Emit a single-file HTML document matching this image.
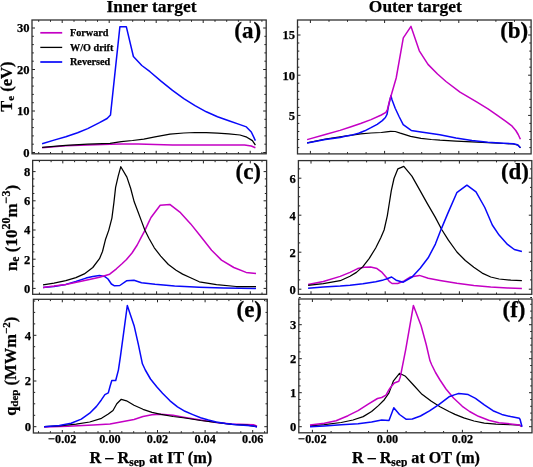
<!DOCTYPE html><html><head><meta charset="utf-8"><style>html,body{margin:0;padding:0;background:#fff}svg{display:block;will-change:transform;filter:blur(0.35px)}</style></head><body><svg width="533" height="467" viewBox="0 0 533 467" font-family='"Liberation Serif", serif' font-weight="bold"><g stroke="#000" stroke-width="0.25">
<rect width="533" height="467" fill="#fff" stroke="none"/>
<path d="M62.2 153.8L62.2 150.8 M62.2 20.0L62.2 23.0 M109.2 153.8L109.2 150.8 M109.2 20.0L109.2 23.0 M156.2 153.8L156.2 150.8 M156.2 20.0L156.2 23.0 M203.2 153.8L203.2 150.8 M203.2 20.0L203.2 23.0 M250.2 153.8L250.2 150.8 M250.2 20.0L250.2 23.0 M38.7 153.8L38.7 152.0 M38.7 20.0L38.7 21.8 M50.5 153.8L50.5 152.0 M50.5 20.0L50.5 21.8 M74.0 153.8L74.0 152.0 M74.0 20.0L74.0 21.8 M85.7 153.8L85.7 152.0 M85.7 20.0L85.7 21.8 M97.5 153.8L97.5 152.0 M97.5 20.0L97.5 21.8 M121.0 153.8L121.0 152.0 M121.0 20.0L121.0 21.8 M132.7 153.8L132.7 152.0 M132.7 20.0L132.7 21.8 M144.5 153.8L144.5 152.0 M144.5 20.0L144.5 21.8 M168.0 153.8L168.0 152.0 M168.0 20.0L168.0 21.8 M179.7 153.8L179.7 152.0 M179.7 20.0L179.7 21.8 M191.5 153.8L191.5 152.0 M191.5 20.0L191.5 21.8 M215.0 153.8L215.0 152.0 M215.0 20.0L215.0 21.8 M226.7 153.8L226.7 152.0 M226.7 20.0L226.7 21.8 M238.4 153.8L238.4 152.0 M238.4 20.0L238.4 21.8 M261.9 153.8L261.9 152.0 M261.9 20.0L261.9 21.8 M32.0 152.5L35.0 152.5 M266.2 152.5L263.2 152.5 M32.0 111.0L35.0 111.0 M266.2 111.0L263.2 111.0 M32.0 69.5L35.0 69.5 M266.2 69.5L263.2 69.5 M32.0 28.0L35.0 28.0 M266.2 28.0L263.2 28.0 M32.0 144.2L33.8 144.2 M266.2 144.2L264.4 144.2 M32.0 135.9L33.8 135.9 M266.2 135.9L264.4 135.9 M32.0 127.6L33.8 127.6 M266.2 127.6L264.4 127.6 M32.0 119.3L33.8 119.3 M266.2 119.3L264.4 119.3 M32.0 102.7L33.8 102.7 M266.2 102.7L264.4 102.7 M32.0 94.4L33.8 94.4 M266.2 94.4L264.4 94.4 M32.0 86.1L33.8 86.1 M266.2 86.1L264.4 86.1 M32.0 77.8L33.8 77.8 M266.2 77.8L264.4 77.8 M32.0 61.2L33.8 61.2 M266.2 61.2L264.4 61.2 M32.0 52.9L33.8 52.9 M266.2 52.9L264.4 52.9 M32.0 44.6L33.8 44.6 M266.2 44.6L264.4 44.6 M32.0 36.3L33.8 36.3 M266.2 36.3L264.4 36.3" stroke="#222" stroke-width="1" fill="none"/>
<rect x="32" y="20" width="234.2" height="133.8" fill="none" stroke="#303030" stroke-width="1.3"/>
<text x="29.6" y="156.8" font-size="12.6" text-anchor="end" >0</text>
<text x="29.6" y="115.3" font-size="12.6" text-anchor="end" >10</text>
<text x="29.6" y="73.8" font-size="12.6" text-anchor="end" >20</text>
<text x="29.6" y="32.29999999999998" font-size="12.6" text-anchor="end" >30</text>
<path d="M310.4 153.9L310.4 150.9 M310.4 20.0L310.4 23.0 M384.6 153.9L384.6 150.9 M384.6 20.0L384.6 23.0 M458.8 153.9L458.8 150.9 M458.8 20.0L458.8 23.0 M329.0 153.9L329.0 152.1 M329.0 20.0L329.0 21.8 M347.5 153.9L347.5 152.1 M347.5 20.0L347.5 21.8 M366.1 153.9L366.1 152.1 M366.1 20.0L366.1 21.8 M403.2 153.9L403.2 152.1 M403.2 20.0L403.2 21.8 M421.7 153.9L421.7 152.1 M421.7 20.0L421.7 21.8 M440.3 153.9L440.3 152.1 M440.3 20.0L440.3 21.8 M477.4 153.9L477.4 152.1 M477.4 20.0L477.4 21.8 M495.9 153.9L495.9 152.1 M495.9 20.0L495.9 21.8 M514.5 153.9L514.5 152.1 M514.5 20.0L514.5 21.8 M297.5 115.4L300.5 115.4 M531.1 115.4L528.1 115.4 M297.5 75.2L300.5 75.2 M531.1 75.2L528.1 75.2 M297.5 35.0L300.5 35.0 M531.1 35.0L528.1 35.0 M297.5 147.6L299.3 147.6 M531.1 147.6L529.3 147.6 M297.5 139.5L299.3 139.5 M531.1 139.5L529.3 139.5 M297.5 131.5L299.3 131.5 M531.1 131.5L529.3 131.5 M297.5 123.4L299.3 123.4 M531.1 123.4L529.3 123.4 M297.5 107.4L299.3 107.4 M531.1 107.4L529.3 107.4 M297.5 99.3L299.3 99.3 M531.1 99.3L529.3 99.3 M297.5 91.3L299.3 91.3 M531.1 91.3L529.3 91.3 M297.5 83.2L299.3 83.2 M531.1 83.2L529.3 83.2 M297.5 67.2L299.3 67.2 M531.1 67.2L529.3 67.2 M297.5 59.1L299.3 59.1 M531.1 59.1L529.3 59.1 M297.5 51.1L299.3 51.1 M531.1 51.1L529.3 51.1 M297.5 43.0L299.3 43.0 M531.1 43.0L529.3 43.0 M297.5 27.0L299.3 27.0 M531.1 27.0L529.3 27.0" stroke="#222" stroke-width="1" fill="none"/>
<rect x="297.5" y="20" width="233.60000000000002" height="133.9" fill="none" stroke="#303030" stroke-width="1.3"/>
<text x="295" y="119.7" font-size="12.6" text-anchor="end" >5</text>
<text x="295" y="79.5" font-size="12.6" text-anchor="end" >10</text>
<text x="295" y="39.3" font-size="12.6" text-anchor="end" >15</text>
<path d="M62.8 294.3L62.8 291.3 M62.8 160.4L62.8 163.4 M109.7 294.3L109.7 291.3 M109.7 160.4L109.7 163.4 M156.6 294.3L156.6 291.3 M156.6 160.4L156.6 163.4 M203.4 294.3L203.4 291.3 M203.4 160.4L203.4 163.4 M250.3 294.3L250.3 291.3 M250.3 160.4L250.3 163.4 M39.4 294.3L39.4 292.5 M39.4 160.4L39.4 162.2 M51.1 294.3L51.1 292.5 M51.1 160.4L51.1 162.2 M74.6 294.3L74.6 292.5 M74.6 160.4L74.6 162.2 M86.3 294.3L86.3 292.5 M86.3 160.4L86.3 162.2 M98.0 294.3L98.0 292.5 M98.0 160.4L98.0 162.2 M121.4 294.3L121.4 292.5 M121.4 160.4L121.4 162.2 M133.1 294.3L133.1 292.5 M133.1 160.4L133.1 162.2 M144.8 294.3L144.8 292.5 M144.8 160.4L144.8 162.2 M168.3 294.3L168.3 292.5 M168.3 160.4L168.3 162.2 M180.0 294.3L180.0 292.5 M180.0 160.4L180.0 162.2 M191.7 294.3L191.7 292.5 M191.7 160.4L191.7 162.2 M215.1 294.3L215.1 292.5 M215.1 160.4L215.1 162.2 M226.9 294.3L226.9 292.5 M226.9 160.4L226.9 162.2 M238.6 294.3L238.6 292.5 M238.6 160.4L238.6 162.2 M262.0 294.3L262.0 292.5 M262.0 160.4L262.0 162.2 M32.6 288.4L35.6 288.4 M266.6 288.4L263.6 288.4 M32.6 259.2L35.6 259.2 M266.6 259.2L263.6 259.2 M32.6 230.0L35.6 230.0 M266.6 230.0L263.6 230.0 M32.6 200.8L35.6 200.8 M266.6 200.8L263.6 200.8 M32.6 171.6L35.6 171.6 M266.6 171.6L263.6 171.6 M32.6 281.1L34.4 281.1 M266.6 281.1L264.8 281.1 M32.6 273.8L34.4 273.8 M266.6 273.8L264.8 273.8 M32.6 266.5L34.4 266.5 M266.6 266.5L264.8 266.5 M32.6 251.9L34.4 251.9 M266.6 251.9L264.8 251.9 M32.6 244.6L34.4 244.6 M266.6 244.6L264.8 244.6 M32.6 237.3L34.4 237.3 M266.6 237.3L264.8 237.3 M32.6 222.7L34.4 222.7 M266.6 222.7L264.8 222.7 M32.6 215.4L34.4 215.4 M266.6 215.4L264.8 215.4 M32.6 208.1L34.4 208.1 M266.6 208.1L264.8 208.1 M32.6 193.5L34.4 193.5 M266.6 193.5L264.8 193.5 M32.6 186.2L34.4 186.2 M266.6 186.2L264.8 186.2 M32.6 178.9L34.4 178.9 M266.6 178.9L264.8 178.9" stroke="#222" stroke-width="1" fill="none"/>
<rect x="32.65" y="160.4" width="233.95000000000002" height="133.9" fill="none" stroke="#303030" stroke-width="1.3"/>
<text x="30.2" y="292.7" font-size="12.6" text-anchor="end" >0</text>
<text x="30.2" y="263.5" font-size="12.6" text-anchor="end" >2</text>
<text x="30.2" y="234.29999999999998" font-size="12.6" text-anchor="end" >4</text>
<text x="30.2" y="205.1" font-size="12.6" text-anchor="end" >6</text>
<text x="30.2" y="175.89999999999998" font-size="12.6" text-anchor="end" >8</text>
<path d="M311.0 294.3L311.0 291.3 M311.0 160.6L311.0 163.6 M385.2 294.3L385.2 291.3 M385.2 160.6L385.2 163.6 M459.4 294.3L459.4 291.3 M459.4 160.6L459.4 163.6 M329.6 294.3L329.6 292.5 M329.6 160.6L329.6 162.4 M348.1 294.3L348.1 292.5 M348.1 160.6L348.1 162.4 M366.6 294.3L366.6 292.5 M366.6 160.6L366.6 162.4 M403.8 294.3L403.8 292.5 M403.8 160.6L403.8 162.4 M422.3 294.3L422.3 292.5 M422.3 160.6L422.3 162.4 M440.9 294.3L440.9 292.5 M440.9 160.6L440.9 162.4 M477.9 294.3L477.9 292.5 M477.9 160.6L477.9 162.4 M496.5 294.3L496.5 292.5 M496.5 160.6L496.5 162.4 M515.0 294.3L515.0 292.5 M515.0 160.6L515.0 162.4 M298.4 289.2L301.4 289.2 M531.8 289.2L528.8 289.2 M298.4 252.2L301.4 252.2 M531.8 252.2L528.8 252.2 M298.4 215.2L301.4 215.2 M531.8 215.2L528.8 215.2 M298.4 178.2L301.4 178.2 M531.8 178.2L528.8 178.2 M298.4 279.9L300.2 279.9 M531.8 279.9L530.0 279.9 M298.4 270.7L300.2 270.7 M531.8 270.7L530.0 270.7 M298.4 261.4L300.2 261.4 M531.8 261.4L530.0 261.4 M298.4 242.9L300.2 242.9 M531.8 242.9L530.0 242.9 M298.4 233.7L300.2 233.7 M531.8 233.7L530.0 233.7 M298.4 224.4L300.2 224.4 M531.8 224.4L530.0 224.4 M298.4 205.9L300.2 205.9 M531.8 205.9L530.0 205.9 M298.4 196.7L300.2 196.7 M531.8 196.7L530.0 196.7 M298.4 187.4L300.2 187.4 M531.8 187.4L530.0 187.4 M298.4 168.9L300.2 168.9 M531.8 168.9L530.0 168.9" stroke="#222" stroke-width="1" fill="none"/>
<rect x="298.4" y="160.6" width="233.39999999999998" height="133.70000000000002" fill="none" stroke="#303030" stroke-width="1.3"/>
<text x="295.8" y="293.5" font-size="12.6" text-anchor="end" >0</text>
<text x="295.8" y="256.5" font-size="12.6" text-anchor="end" >2</text>
<text x="295.8" y="219.5" font-size="12.6" text-anchor="end" >4</text>
<text x="295.8" y="182.5" font-size="12.6" text-anchor="end" >6</text>
<path d="M62.3 433.0L62.3 430.0 M62.3 299.3L62.3 302.3 M109.9 433.0L109.9 430.0 M109.9 299.3L109.9 302.3 M157.5 433.0L157.5 430.0 M157.5 299.3L157.5 302.3 M205.1 433.0L205.1 430.0 M205.1 299.3L205.1 302.3 M252.7 433.0L252.7 430.0 M252.7 299.3L252.7 302.3 M38.5 433.0L38.5 431.2 M38.5 299.3L38.5 301.1 M50.4 433.0L50.4 431.2 M50.4 299.3L50.4 301.1 M74.2 433.0L74.2 431.2 M74.2 299.3L74.2 301.1 M86.1 433.0L86.1 431.2 M86.1 299.3L86.1 301.1 M98.0 433.0L98.0 431.2 M98.0 299.3L98.0 301.1 M121.8 433.0L121.8 431.2 M121.8 299.3L121.8 301.1 M133.7 433.0L133.7 431.2 M133.7 299.3L133.7 301.1 M145.6 433.0L145.6 431.2 M145.6 299.3L145.6 301.1 M169.4 433.0L169.4 431.2 M169.4 299.3L169.4 301.1 M181.3 433.0L181.3 431.2 M181.3 299.3L181.3 301.1 M193.2 433.0L193.2 431.2 M193.2 299.3L193.2 301.1 M217.0 433.0L217.0 431.2 M217.0 299.3L217.0 301.1 M228.9 433.0L228.9 431.2 M228.9 299.3L228.9 301.1 M240.8 433.0L240.8 431.2 M240.8 299.3L240.8 301.1 M264.6 433.0L264.6 431.2 M264.6 299.3L264.6 301.1 M33.4 426.7L36.4 426.7 M267.3 426.7L264.3 426.7 M33.4 381.0L36.4 381.0 M267.3 381.0L264.3 381.0 M33.4 335.3L36.4 335.3 M267.3 335.3L264.3 335.3 M33.4 415.3L35.2 415.3 M267.3 415.3L265.5 415.3 M33.4 403.8L35.2 403.8 M267.3 403.8L265.5 403.8 M33.4 392.4L35.2 392.4 M267.3 392.4L265.5 392.4 M33.4 369.6L35.2 369.6 M267.3 369.6L265.5 369.6 M33.4 358.1L35.2 358.1 M267.3 358.1L265.5 358.1 M33.4 346.7L35.2 346.7 M267.3 346.7L265.5 346.7 M33.4 323.9L35.2 323.9 M267.3 323.9L265.5 323.9 M33.4 312.4L35.2 312.4 M267.3 312.4L265.5 312.4 M33.4 301.0L35.2 301.0 M267.3 301.0L265.5 301.0" stroke="#222" stroke-width="1" fill="none"/>
<rect x="33.4" y="299.3" width="233.9" height="133.7" fill="none" stroke="#303030" stroke-width="1.3"/>
<text x="31" y="431.0" font-size="12.6" text-anchor="end" >0</text>
<text x="31" y="385.3" font-size="12.6" text-anchor="end" >2</text>
<text x="31" y="339.59999999999997" font-size="12.6" text-anchor="end" >4</text>
<text x="62.3" y="443.2" font-size="12.2" text-anchor="middle" >&#8722;0.02</text>
<text x="109.9" y="443.2" font-size="12.2" text-anchor="middle" >0.00</text>
<text x="157.5" y="443.2" font-size="12.2" text-anchor="middle" >0.02</text>
<text x="205.1" y="443.2" font-size="12.2" text-anchor="middle" >0.04</text>
<text x="252.7" y="443.2" font-size="12.2" text-anchor="middle" >0.06</text>
<path d="M312.4 432.8L312.4 429.8 M312.4 299.0L312.4 302.0 M387.4 432.8L387.4 429.8 M387.4 299.0L387.4 302.0 M462.4 432.8L462.4 429.8 M462.4 299.0L462.4 302.0 M331.1 432.8L331.1 431.0 M331.1 299.0L331.1 300.8 M349.9 432.8L349.9 431.0 M349.9 299.0L349.9 300.8 M368.6 432.8L368.6 431.0 M368.6 299.0L368.6 300.8 M406.1 432.8L406.1 431.0 M406.1 299.0L406.1 300.8 M424.9 432.8L424.9 431.0 M424.9 299.0L424.9 300.8 M443.6 432.8L443.6 431.0 M443.6 299.0L443.6 300.8 M481.1 432.8L481.1 431.0 M481.1 299.0L481.1 300.8 M499.9 432.8L499.9 431.0 M499.9 299.0L499.9 300.8 M518.6 432.8L518.6 431.0 M518.6 299.0L518.6 300.8 M298.8 426.7L301.8 426.7 M532.0 426.7L529.0 426.7 M298.8 392.7L301.8 392.7 M532.0 392.7L529.0 392.7 M298.8 358.7L301.8 358.7 M532.0 358.7L529.0 358.7 M298.8 324.7L301.8 324.7 M532.0 324.7L529.0 324.7 M298.8 419.9L300.6 419.9 M532.0 419.9L530.2 419.9 M298.8 413.1L300.6 413.1 M532.0 413.1L530.2 413.1 M298.8 406.3L300.6 406.3 M532.0 406.3L530.2 406.3 M298.8 399.5L300.6 399.5 M532.0 399.5L530.2 399.5 M298.8 385.9L300.6 385.9 M532.0 385.9L530.2 385.9 M298.8 379.1L300.6 379.1 M532.0 379.1L530.2 379.1 M298.8 372.3L300.6 372.3 M532.0 372.3L530.2 372.3 M298.8 365.5L300.6 365.5 M532.0 365.5L530.2 365.5 M298.8 351.9L300.6 351.9 M532.0 351.9L530.2 351.9 M298.8 345.1L300.6 345.1 M532.0 345.1L530.2 345.1 M298.8 338.3L300.6 338.3 M532.0 338.3L530.2 338.3 M298.8 331.5L300.6 331.5 M532.0 331.5L530.2 331.5 M298.8 317.9L300.6 317.9 M532.0 317.9L530.2 317.9 M298.8 311.1L300.6 311.1 M532.0 311.1L530.2 311.1 M298.8 304.3L300.6 304.3 M532.0 304.3L530.2 304.3 M298.8 297.5L300.6 297.5 M532.0 297.5L530.2 297.5" stroke="#222" stroke-width="1" fill="none"/>
<rect x="298.8" y="299" width="233.2" height="133.8" fill="none" stroke="#303030" stroke-width="1.3"/>
<text x="296.3" y="431.0" font-size="12.6" text-anchor="end" >0</text>
<text x="296.3" y="397.0" font-size="12.6" text-anchor="end" >1</text>
<text x="296.3" y="363.0" font-size="12.6" text-anchor="end" >2</text>
<text x="296.3" y="329.0" font-size="12.6" text-anchor="end" >3</text>
<text x="312.4" y="443.2" font-size="12.2" text-anchor="middle" >&#8722;0.02</text>
<text x="387.4" y="443.2" font-size="12.2" text-anchor="middle" >0.00</text>
<text x="462.4" y="443.2" font-size="12.2" text-anchor="middle" >0.02</text>
<text x="151.5" y="11.8" font-size="17.4" text-anchor="middle" >Inner target</text>
<text x="415.3" y="11.8" font-size="17.4" text-anchor="middle" >Outer target</text>
<text x="261.2" y="37.7" font-size="23" text-anchor="end" >(a)</text>
<text x="528.3" y="38" font-size="23" text-anchor="end" >(b)</text>
<text x="261" y="178.6" font-size="23" text-anchor="end" >(c)</text>
<text x="529" y="178.5" font-size="23" text-anchor="end" >(d)</text>
<text x="262" y="317.2" font-size="23" text-anchor="end" >(e)</text>
<text x="525.5" y="317" font-size="23" text-anchor="end" >(f)</text>
<text x="89.5" y="463" font-size="16.25" text-anchor="start" >R &#8211; R<tspan font-size="11.5" dy="2.5">sep</tspan><tspan dy="-2.5"> at IT (m)</tspan></text>
<text x="352" y="463" font-size="16.1" text-anchor="start" >R &#8211; R<tspan font-size="11.5" dy="2.5">sep</tspan><tspan dy="-2.5"> at OT (m)</tspan></text>
<text transform="translate(11.6,86.7) rotate(-90)" font-size="16.5" text-anchor="middle">T<tspan font-size="11" dy="2.5">e</tspan><tspan dy="-2.5"> (eV)</tspan></text>
<text transform="translate(16.9,228) rotate(-90)" font-size="17" text-anchor="middle">n<tspan font-size="11.5" dy="2.5">e</tspan><tspan dy="-2.5"> (10</tspan><tspan font-size="12" dy="-6.5">20</tspan><tspan dy="6.5">m</tspan><tspan font-size="12" dy="-6.5">&#8722;3</tspan><tspan dy="6.5">)</tspan></text>
<text transform="translate(15.9,366.3) rotate(-90)" font-size="16.5" text-anchor="middle">q<tspan font-size="11" dy="2.5">dep</tspan><tspan dy="-2.5"> (MWm</tspan><tspan font-size="11" dy="-6">&#8722;2</tspan><tspan dy="6">)</tspan></text>
<line x1="40.3" y1="32.8" x2="62.2" y2="32.8" stroke="#c400c4" stroke-width="1.7"/>
<line x1="40.3" y1="47.4" x2="62.2" y2="47.4" stroke="#000000" stroke-width="1.3"/>
<line x1="40.3" y1="62" x2="62.2" y2="62" stroke="#0808fa" stroke-width="1.7"/>
<text x="70" y="36.2" font-size="10.2" text-anchor="start" >Forward</text>
<text x="70" y="50.5" font-size="10.2" text-anchor="start" >W/O drift</text>
<text x="70" y="64.9" font-size="10.2" text-anchor="start" >Reversed</text>
</g>
<polyline points="42.1,147.7 65.8,145.8 87.7,145.0 110.0,144.2 121.3,144.0 138.1,143.9 155.0,144.5 172.5,144.9 195.0,145.1 217.5,145.1 244.5,145.1 251.3,146.0 255.4,147.8" fill="none" stroke="#c400c4" stroke-width="1.5" stroke-linejoin="round" stroke-linecap="butt"/>
<polyline points="42.1,147.4 65.8,145.4 87.7,144.2 110.0,143.4 121.3,141.6 132.5,140.5 143.8,139.1 155.0,136.9 170.0,134.1 183.8,133.0 195.0,132.5 206.3,132.7 217.5,133.2 228.8,133.8 240.0,135.0 246.8,137.2 252.4,140.6 255.4,145.1" fill="none" stroke="#000000" stroke-width="1.25" stroke-linejoin="round" stroke-linecap="butt"/>
<polyline points="42.1,143.8 54.0,140.1 65.8,136.7 77.6,132.8 87.7,128.6 99.5,122.7 107.1,118.5 110.5,114.9 119.9,26.7 126.3,26.7 133.4,56.5 141.8,65.5 150.0,71.7 161.3,81.4 172.5,90.4 183.8,98.7 195.0,105.7 206.3,111.8 217.5,116.7 228.8,120.8 240.0,124.6 246.4,126.9 251.3,132.0 255.4,140.6" fill="none" stroke="#0808fa" stroke-width="1.5" stroke-linejoin="round" stroke-linecap="butt"/>
<polyline points="307.1,142.9 325.3,139.1 340.0,136.9 350.3,135.3 360.6,133.8 371.0,133.0 381.3,132.5 386.4,131.8 390.6,131.3 395.2,131.5 400.3,133.2 410.6,136.3 421.0,138.4 431.3,139.5 440.0,140.2 456.0,141.1 471.9,141.9 487.8,142.7 503.8,143.5 513.4,144.0 518.1,145.1 520.5,147.8" fill="none" stroke="#000000" stroke-width="1.25" stroke-linejoin="round" stroke-linecap="butt"/>
<polyline points="307.1,142.9 325.3,139.6 340.0,137.4 346.2,136.1 352.4,134.9 358.6,133.2 364.8,130.8 371.0,127.7 377.2,124.3 382.3,120.6 385.4,117.5 387.0,114.4 388.5,106.2 390.9,95.8 392.1,100.0 395.2,108.3 399.3,117.0 403.2,124.6 411.2,130.4 421.0,132.0 431.3,133.5 439.8,134.7 456.0,137.9 471.9,140.6 487.8,142.2 503.8,143.2 513.4,143.8 517.4,144.8 520.5,147.8" fill="none" stroke="#0808fa" stroke-width="1.5" stroke-linejoin="round" stroke-linecap="butt"/>
<polyline points="307.1,139.6 325.3,134.5 340.0,130.4 350.3,127.0 360.6,123.5 371.0,119.6 381.3,115.0 385.9,112.4 387.5,109.3 389.5,101.0 391.2,95.3 396.2,78.0 403.3,37.9 411.0,26.4 419.3,50.8 428.0,64.4 437.5,74.0 446.0,81.5 460.0,92.2 477.0,102.2 488.0,108.8 497.0,115.2 505.5,121.2 511.5,125.6 515.8,130.5 518.2,134.5 520.4,139.3" fill="none" stroke="#c400c4" stroke-width="1.5" stroke-linejoin="round" stroke-linecap="butt"/>
<polyline points="43.0,287.4 54.0,286.6 65.8,284.4 75.9,281.5 86.0,278.1 92.8,276.4 99.5,275.6 104.6,276.4 108.0,279.0 111.4,284.0 114.5,285.8 119.8,285.5 126.5,280.8 134.0,280.2 141.5,282.8 155.0,284.3 174.6,286.0 199.3,287.2 223.9,287.9 256.0,288.4" fill="none" stroke="#0808fa" stroke-width="1.5" stroke-linejoin="round" stroke-linecap="butt"/>
<polyline points="43.0,287.4 54.0,286.1 65.8,284.4 77.6,282.0 89.4,279.5 99.5,277.3 109.7,274.2 116.4,268.8 122.0,263.8 126.5,259.5 132.0,253.0 137.2,245.0 141.3,237.1 144.8,230.6 148.4,222.9 151.0,217.5 160.2,205.2 169.8,204.4 180.5,212.7 190.7,223.9 200.0,235.5 211.6,250.2 221.5,260.1 233.8,267.5 246.1,272.4 256.0,273.6" fill="none" stroke="#c400c4" stroke-width="1.5" stroke-linejoin="round" stroke-linecap="butt"/>
<polyline points="43.0,284.9 54.0,283.2 65.8,280.7 75.9,277.6 84.3,273.9 92.8,267.5 99.5,258.7 102.5,251.5 105.4,239.8 108.8,230.1 111.9,218.1 113.9,202.7 115.6,187.4 118.2,176.2 120.8,166.7 126.9,177.1 130.7,188.5 134.2,201.8 137.8,211.2 141.3,220.6 144.8,230.0 148.9,238.2 154.3,247.8 160.7,256.1 168.4,264.5 176.1,270.3 182.6,274.1 190.0,277.5 199.3,281.8 216.5,284.7 236.2,286.5 256.0,286.5" fill="none" stroke="#000000" stroke-width="1.25" stroke-linejoin="round" stroke-linecap="butt"/>
<polyline points="308.1,284.5 323.3,281.5 340.2,276.4 350.0,272.4 357.7,268.6 364.1,267.3 370.6,267.0 377.0,268.6 382.1,272.4 386.0,276.9 389.2,281.4 392.0,283.5 397.7,283.5 404.1,281.0 410.5,277.0 419.4,275.4 428.2,278.2 440.0,280.4 456.9,283.3 473.8,285.5 490.7,287.0 507.5,288.0 521.9,288.5" fill="none" stroke="#c400c4" stroke-width="1.5" stroke-linejoin="round" stroke-linecap="butt"/>
<polyline points="308.1,285.4 323.3,283.7 340.2,280.7 350.0,276.3 356.4,272.4 362.9,266.6 369.3,258.3 375.7,248.0 380.8,237.7 384.1,230.0 387.3,215.8 389.5,202.0 391.3,190.7 394.0,178.5 397.9,168.8 403.8,166.4 411.9,176.1 419.1,188.9 427.2,203.4 435.2,217.1 441.7,229.5 448.4,240.2 456.9,252.0 465.3,260.5 473.8,267.2 482.2,273.1 490.7,277.0 499.1,279.0 510.9,280.2 521.9,280.7" fill="none" stroke="#000000" stroke-width="1.25" stroke-linejoin="round" stroke-linecap="butt"/>
<polyline points="308.1,288.3 323.3,287.1 340.2,286.1 350.0,285.3 362.9,283.7 375.7,281.7 383.4,279.9 386.4,279.0 391.6,277.0 396.1,280.2 403.3,282.2 412.1,277.0 420.2,268.2 428.2,257.8 435.4,244.1 441.0,229.6 447.7,213.6 456.8,192.7 466.9,185.2 476.0,191.9 484.8,207.5 492.3,225.0 499.1,235.1 507.5,244.4 514.3,249.5 521.9,251.5" fill="none" stroke="#0808fa" stroke-width="1.5" stroke-linejoin="round" stroke-linecap="butt"/>
<polyline points="44.1,427.0 67.8,426.2 93.1,425.0 110.0,424.0 122.0,421.8 134.0,419.5 143.0,416.5 152.0,414.7 161.0,414.3 173.0,415.3 185.0,417.4 200.6,420.0 216.2,422.4 231.7,423.9 253.5,424.7 257.0,426.3" fill="none" stroke="#c400c4" stroke-width="1.5" stroke-linejoin="round" stroke-linecap="butt"/>
<polyline points="44.1,426.7 59.3,425.9 76.2,424.2 89.7,422.0 101.5,418.3 108.3,414.0 113.0,410.5 116.8,403.8 121.3,399.3 126.5,400.8 134.0,405.3 143.0,409.3 152.0,412.3 161.0,414.3 173.0,416.5 185.0,418.0 200.6,420.5 216.2,422.4 231.7,424.3 247.3,425.2 257.0,426.7" fill="none" stroke="#000000" stroke-width="1.25" stroke-linejoin="round" stroke-linecap="butt"/>
<polyline points="44.1,426.7 59.3,425.4 71.1,423.3 81.3,419.1 89.7,413.2 96.5,406.4 101.5,399.7 104.9,394.6 108.3,392.9 110.0,386.5 111.8,380.5 115.7,380.5 118.4,370.1 120.4,356.6 123.9,330.9 127.3,305.5 134.1,325.7 138.4,344.6 142.4,363.8 145.3,370.0 150.5,379.0 156.5,386.5 162.5,393.3 170.0,400.8 177.5,406.8 185.0,411.3 192.8,414.6 200.6,417.7 208.4,420.0 216.2,421.9 225.5,423.5 236.4,424.7 247.3,425.5 253.5,426.0 257.0,427.1" fill="none" stroke="#0808fa" stroke-width="1.5" stroke-linejoin="round" stroke-linecap="butt"/>
<polyline points="310.0,425.9 324.3,424.7 341.2,422.5 353.0,420.0 363.2,416.6 371.6,411.5 378.4,405.6 384.3,399.7 389.0,392.9 393.5,380.8 399.5,373.3 405.5,376.3 413.0,384.5 422.0,394.3 431.0,401.0 440.0,406.7 449.0,411.5 455.0,414.4 463.8,417.8 474.0,421.0 484.3,423.2 496.0,424.2 510.6,424.6 519.4,425.1 522.0,426.5" fill="none" stroke="#000000" stroke-width="1.25" stroke-linejoin="round" stroke-linecap="butt"/>
<polyline points="310.0,425.0 324.3,423.3 336.1,420.8 348.0,415.7 358.1,410.7 368.2,404.2 377.5,398.5 381.7,397.5 386.0,395.2 389.0,389.6 390.5,387.5 394.3,383.0 398.8,381.2 400.3,377.0 405.7,349.7 413.4,305.5 421.1,325.7 426.2,344.5 430.0,360.8 431.8,365.0 435.5,372.5 440.0,380.0 446.0,389.0 453.5,398.0 462.3,406.3 469.6,411.5 478.4,416.3 488.7,420.2 498.9,422.7 510.6,423.9 519.4,425.1 522.0,426.5" fill="none" stroke="#c400c4" stroke-width="1.5" stroke-linejoin="round" stroke-linecap="butt"/>
<polyline points="310.0,426.7 324.3,425.9 341.2,424.7 358.1,423.8 371.6,422.1 381.7,420.0 389.0,420.5 393.8,407.8 399.5,414.5 406.3,419.3 412.3,419.0 420.5,416.0 429.5,410.8 438.5,404.8 449.0,396.8 455.0,394.6 458.7,393.5 463.8,393.9 468.2,394.6 475.5,398.3 484.3,404.9 493.0,410.7 501.8,414.4 510.6,416.6 519.4,418.3 520.1,419.5 522.0,426.8" fill="none" stroke="#0808fa" stroke-width="1.5" stroke-linejoin="round" stroke-linecap="butt"/>
</svg></body></html>
